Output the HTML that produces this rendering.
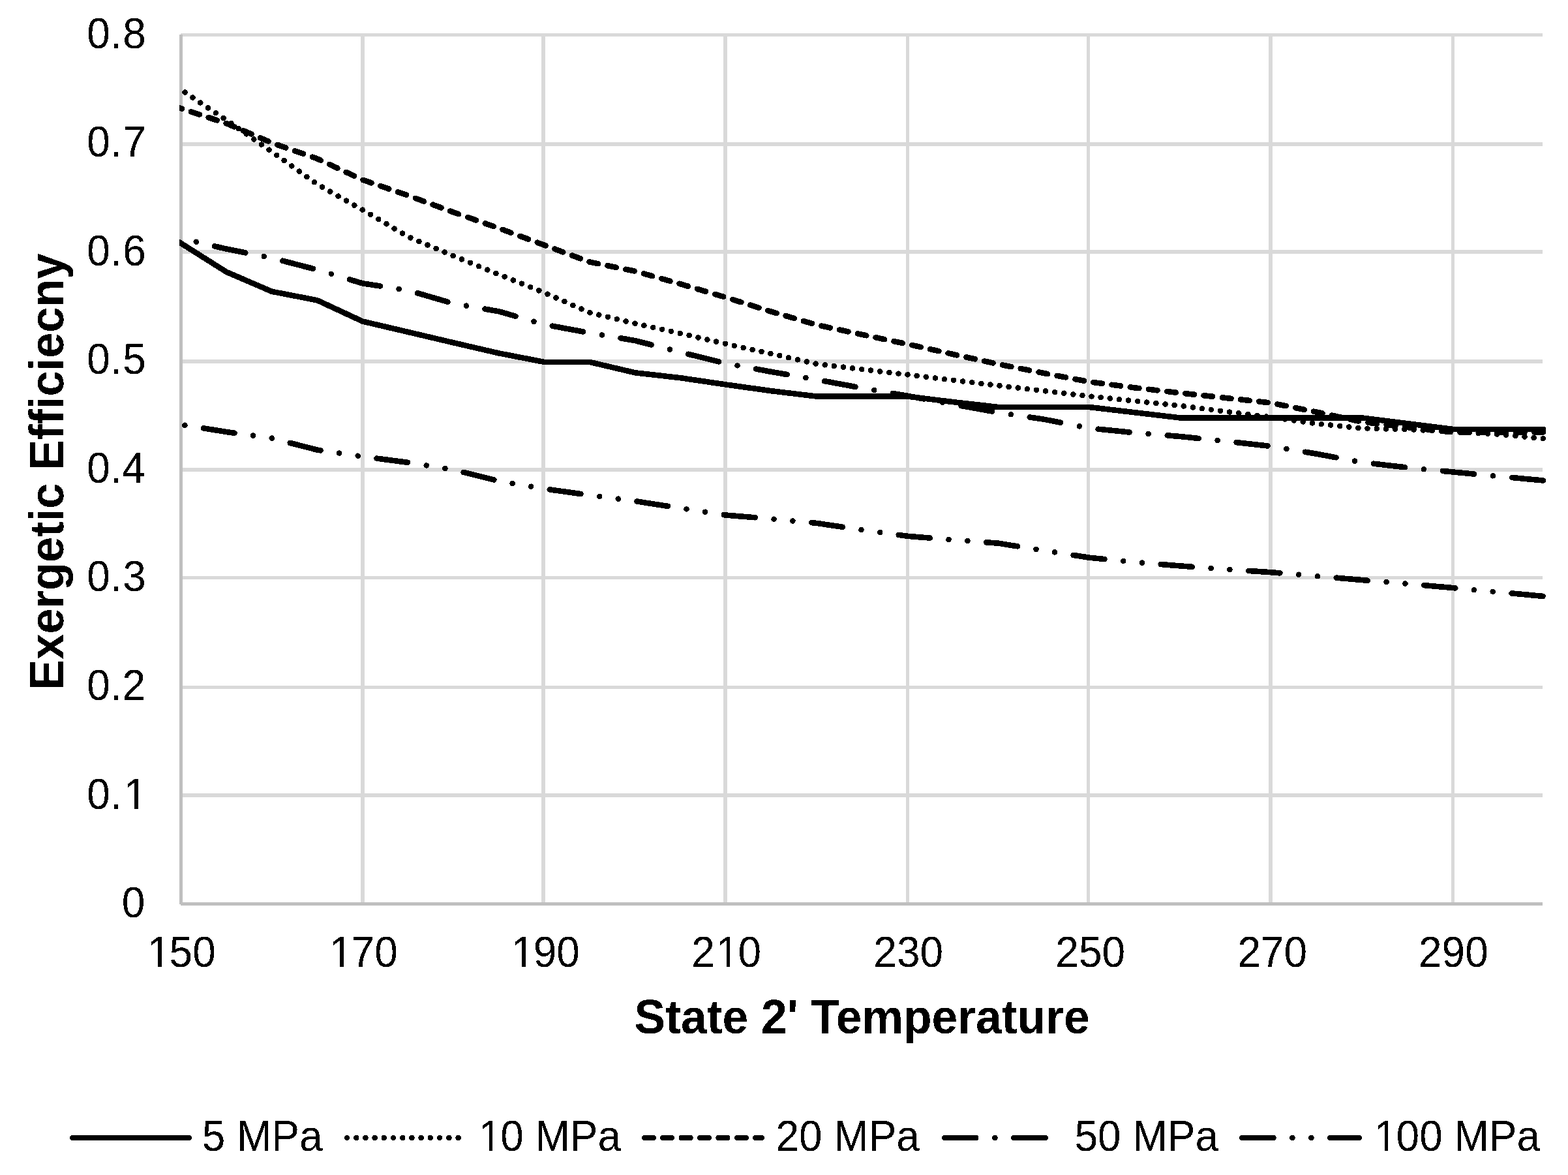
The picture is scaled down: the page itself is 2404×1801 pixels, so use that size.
<!DOCTYPE html>
<html lang="en">
<head>
<meta charset="utf-8">
<title>Exergetic Efficiency vs State 2' Temperature</title>
<style>
html,body{margin:0;padding:0;background:#fff;}
body{width:2404px;height:1801px;}
svg{display:block;}
text{font-family:'Liberation Sans', Arial, Helvetica, sans-serif;fill:#000;}
.tick{font-size:64px;}
.title{font-size:72px;font-weight:bold;}
.grid rect{fill:#d9d9d9;}
.axis rect{fill:#bfbfbf;}
.series polyline,.legend line{fill:none;stroke:#000;stroke-width:8.6;stroke-linecap:round;stroke-linejoin:round;}
</style>
</head>
<body>
<svg xmlns="http://www.w3.org/2000/svg" width="2404" height="1801" viewBox="0 0 2404 1801">
<rect x="0" y="0" width="2404" height="1801" fill="#ffffff"/>

<g class="grid" shape-rendering="crispEdges">
<rect x="277" y="51" width="2088" height="5"/>
<rect x="277" y="218" width="2088" height="6"/>
<rect x="277" y="383" width="2088" height="6"/>
<rect x="277" y="551" width="2088" height="6"/>
<rect x="277" y="717" width="2088" height="6"/>
<rect x="277" y="883" width="2088" height="5"/>
<rect x="277" y="1051" width="2088" height="5"/>
<rect x="277" y="1216" width="2088" height="6"/>
<rect x="553" y="53" width="6" height="1333"/>
<rect x="830" y="53" width="6" height="1333"/>
<rect x="1109" y="53" width="6" height="1333"/>
<rect x="1389" y="53" width="5" height="1333"/>
<rect x="1666" y="53" width="5" height="1333"/>
<rect x="1945" y="53" width="6" height="1333"/>
<rect x="2225" y="53" width="5" height="1333"/>
</g>
<g class="axis" shape-rendering="crispEdges">
<rect x="275" y="53" width="5" height="1333"/>
<rect x="277" y="1383" width="2088" height="5"/>
</g>
<defs><clipPath id="plotclip"><rect x="275" y="0" width="2129" height="1400"/></clipPath><filter id="crisp" x="0" y="0" width="2404" height="1801" filterUnits="userSpaceOnUse" color-interpolation-filters="sRGB"><feComponentTransfer><feFuncA type="discrete" tableValues="0 1"/></feComponentTransfer></filter></defs>
<g class="series" clip-path="url(#plotclip)" shape-rendering="crispEdges">
<polyline points="275.0,371.3 277.5,372.9 347.1,416.8 416.7,446.8 486.4,460.3 556.0,492.6 625.6,508.9 695.2,525.3 764.8,541.4 834.5,554.9 904.1,554.9 973.7,571.3 1043.3,579.2 1112.9,589.5 1182.6,599.2 1252.2,607.6 1321.8,607.6 1391.4,607.6 1461.0,616.1 1530.7,624.0 1600.3,624.0 1669.9,624.0 1739.5,632.2 1809.1,640.4 1878.8,640.4 1948.4,640.4 2018.0,640.4 2087.6,640.4 2157.2,649.1 2226.9,657.8 2296.5,657.8 2366.1,657.8"/>
<polyline points="275.0,135.8 277.5,137.5 347.1,184.1 416.7,232.5 486.4,282.5 556.0,321.8 625.6,362.8 695.2,392.3 764.8,420.7 834.5,448.6 904.1,479.2 973.7,495.8 1043.3,511.1 1112.9,527.1 1182.6,542.2 1252.2,557.8 1321.8,566.1 1391.4,574.3 1461.0,582.7 1530.7,591.0 1600.3,599.1 1669.9,607.3 1739.5,614.7 1809.1,621.8 1878.8,630.8 1948.4,639.4 2018.0,649.2 2087.6,656.5 2157.2,658.1 2226.9,661.8 2296.5,665.6 2366.1,672.2" stroke-dasharray="0.01 14.187" stroke-dashoffset="3.79"/>
<polyline points="275.0,165.4 277.5,166.2 347.1,189.1 416.7,218.9 486.4,243.3 556.0,275.7 625.6,299.7 695.2,325.3 764.8,349.8 834.5,375.7 904.1,401.6 973.7,415.7 1043.3,435.3 1112.9,455.9 1182.6,477.7 1252.2,498.0 1321.8,512.9 1391.4,527.5 1461.0,543.0 1530.7,558.2 1600.3,572.0 1669.9,585.2 1739.5,594.3 1809.1,602.3 1878.8,609.9 1948.4,617.5 2018.0,631.5 2087.6,646.5 2157.2,655.0 2226.9,662.4 2296.5,662.4 2366.1,662.4" stroke-dasharray="13.70 14.70" stroke-dashoffset="9.67"/>
<polyline points="275.0,364.7 277.5,365.3 347.1,381.6 416.7,395.4 486.4,413.5 556.0,434.4 625.6,445.0 695.2,465.3 764.8,477.3 834.5,497.4 904.1,510.3 973.7,522.1 1043.3,539.8 1112.9,557.1 1182.6,569.9 1252.2,581.9 1321.8,594.8 1391.4,606.8 1461.0,619.7 1530.7,632.3 1600.3,642.7 1669.9,656.3 1739.5,663.3 1809.1,669.0 1878.8,676.2 1948.4,684.0 2018.0,695.6 2087.6,708.6 2157.2,716.6 2226.9,723.4 2296.5,730.0 2366.1,736.5" stroke-dasharray="48.20 29.15 0.01 29.15" stroke-dashoffset="50.88"/>
<polyline points="275.0,650.4 277.5,650.8 347.1,662.0 416.7,671.7 486.4,689.6 556.0,699.8 625.6,708.9 695.2,720.0 764.8,737.3 834.5,749.2 904.1,759.0 973.7,768.1 1043.3,778.9 1112.9,789.6 1182.6,795.3 1252.2,801.9 1321.8,812.2 1391.4,821.8 1461.0,827.5 1530.7,832.7 1600.3,843.8 1669.9,854.7 1739.5,861.7 1809.1,867.4 1878.8,872.6 1948.4,877.2 2018.0,883.0 2087.6,889.0 2157.2,894.8 2226.9,901.0 2296.5,907.5 2366.1,913.9" stroke-dasharray="48.20 28.90 0.01 28.90 0.01 28.90" stroke-dashoffset="97.57"/>
</g>
<defs><clipPath id="trim"><path clip-rule="evenodd" d="M0 0H2404V1801H0ZM194 1234H206V1241H194ZM212 1234H223V1241H212ZM230 1476H242V1483H230ZM248 1476H259V1483H248ZM509 1476H521V1483H509ZM527 1476H538V1483H527ZM788 1476H800V1483H788ZM806 1476H817V1483H806ZM1102 1476H1114V1483H1102ZM1119 1476H1131V1483H1119ZM737 1758H750V1765H737ZM755 1758H767V1765H755ZM2111 1758H2123V1765H2111ZM2128 1758H2140V1765H2128Z"/></clipPath></defs>
<g clip-path="url(#trim)">
<g class="labels" filter="url(#crisp)">
<text class="tick" transform="translate(133.25 74.10) scale(1.0000 1.0450)">0.<tspan dx="1.75">8</tspan></text>
<text class="tick" transform="translate(133.25 240.10) scale(1.0000 1.0450)">0.<tspan dx="1.75">7</tspan></text>
<text class="tick" transform="translate(133.25 407.10) scale(1.0000 1.0450)">0.<tspan dx="1.75">6</tspan></text>
<text class="tick" transform="translate(133.25 573.10) scale(1.0000 1.0450)">0.<tspan dx="1.75">5</tspan></text>
<text class="tick" transform="translate(133.25 740.10) scale(1.0000 1.0450)">0.<tspan dx="0.75">4</tspan></text>
<text class="tick" transform="translate(133.25 906.10) scale(1.0000 1.0450)">0.<tspan dx="1.75">3</tspan></text>
<text class="tick" transform="translate(133.25 1073.10) scale(1.0000 1.0450)">0.<tspan dx="0.8">2</tspan></text>
<text class="tick" transform="translate(133.25 1240.10) scale(1.0000 1.0450)">0.<tspan dx="3.5">1</tspan></text>
<text class="tick" transform="translate(186.81 1406.10) scale(1.0000 1.0450)">0</text>
<text class="tick" transform="translate(224.01 1482.10) scale(1.0000 1.0450)"><tspan dx="2">1</tspan><tspan dx="-2">50</tspan></text>
<text class="tick" transform="translate(503.01 1482.10) scale(1.0000 1.0450)"><tspan dx="2">1</tspan><tspan dx="-2">70</tspan></text>
<text class="tick" transform="translate(782.11 1482.10) scale(1.0000 1.0450)"><tspan dx="2">1</tspan><tspan dx="-2">90</tspan></text>
<text class="tick" transform="translate(1060.21 1482.10) scale(1.0000 1.0450)">2<tspan dx="2">1</tspan><tspan dx="-2">0</tspan></text>
<text class="tick" transform="translate(1339.31 1482.10) scale(1.0000 1.0450)">230</text>
<text class="tick" transform="translate(1618.31 1482.10) scale(1.0000 1.0450)">250</text>
<text class="tick" transform="translate(1897.41 1482.10) scale(1.0000 1.0450)">270</text>
<text class="tick" transform="translate(2175.01 1482.10) scale(1.0000 1.0450)">290</text>
<text class="title" transform="translate(972.60 1584.10) scale(0.9916 1.0270)">State 2' Temperature</text>
<text class="title" transform="translate(97.00 1057.70) rotate(-90) scale(0.9785 1.0270)">Exergetic Efficiecny</text>
<text class="tick" transform="translate(309.70 1764.10) scale(1.0000 1.0450)">5 MPa</text>
<text class="tick" transform="translate(731.60 1764.10) scale(1.0000 1.0450)"><tspan dx="1.8">1</tspan><tspan dx="-1.8">0 MPa</tspan></text>
<text class="tick" transform="translate(1189.40 1764.10) scale(1.0000 1.0450)">20 MPa</text>
<text class="tick" transform="translate(1647.50 1764.10) scale(1.0000 1.0450)">50 MPa</text>
<text class="tick" transform="translate(2105.00 1764.10) scale(1.0000 1.0450)"><tspan dx="1.8">1</tspan><tspan dx="-1.8">00 MPa</tspan></text>
</g>
</g>
<g class="legend" shape-rendering="crispEdges">
<line x1="111" y1="1744" x2="290" y2="1744"/>
<line x1="532" y1="1744" x2="711" y2="1744" stroke-dasharray="0.01 14.20"/>
<line x1="988" y1="1744" x2="1168" y2="1744" stroke-dasharray="13.70 14.70"/>
<line x1="1448" y1="1744" x2="1627" y2="1744" stroke-dasharray="48.20 29.15 0.01 29.15"/>
<line x1="1904.3" y1="1744" x2="2083.8" y2="1744" stroke-dasharray="48.20 28.90 0.01 28.90 0.01 28.90"/>
</g>
</svg>
</body>
</html>
